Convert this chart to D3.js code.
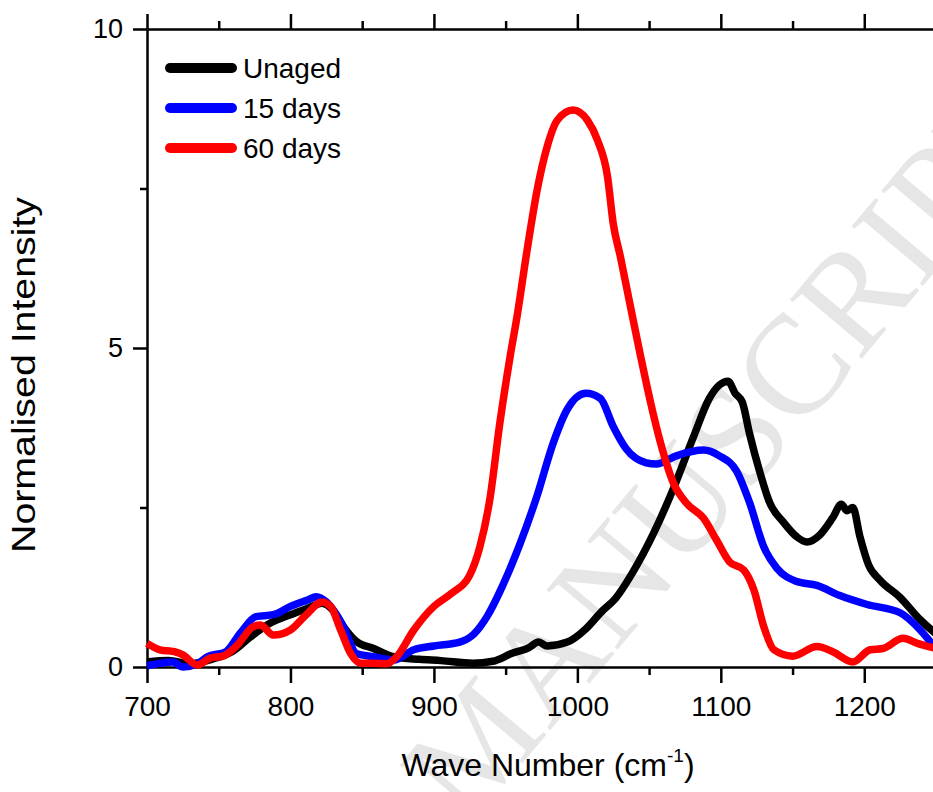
<!DOCTYPE html>
<html>
<head>
<meta charset="utf-8">
<script src="https://cdn.jsdelivr.net/npm/d3@7"></script>
<style>
  body { margin: 0; background: #fff; }
  svg { display: block; font-family: "Liberation Sans", Arial, sans-serif; }
  .axis path, .axis line { stroke: #000; stroke-width: 2.5px; }
  .axis text { font-size: 28px; fill: #000; }
</style>
</head>
<body>
<svg id="chart" width="933" height="792"></svg>
<script>
// Unaged spectrum (wave number, normalised intensity)
const unagedWave = [700, 715, 730, 745, 760, 772, 786, 800, 812, 822, 830, 838, 846, 858, 872, 890, 905, 927, 941, 955, 966, 973, 979, 993, 1006, 1017, 1026, 1039, 1053, 1067, 1081, 1092, 1099, 1105, 1110, 1115, 1120, 1127, 1134, 1144, 1153, 1160, 1169, 1178, 1184, 1188, 1192, 1197, 1203, 1211, 1225, 1239, 1250];
const unagedInt  = [0.08, 0.10, 0.05, 0.12, 0.25, 0.47, 0.69, 0.82, 0.92, 1.00, 0.88, 0.60, 0.40, 0.29, 0.16, 0.12, 0.10, 0.06, 0.09, 0.22, 0.30, 0.39, 0.33, 0.39, 0.60, 0.87, 1.06, 1.50, 2.09, 2.80, 3.61, 4.21, 4.42, 4.48, 4.29, 4.15, 3.66, 3.07, 2.58, 2.26, 2.04, 1.96, 2.07, 2.34, 2.55, 2.45, 2.50, 2.04, 1.60, 1.36, 1.09, 0.74, 0.52];

// 15 days
const days15Wave = [700, 718, 725, 735, 742, 755, 765, 776, 788, 800, 812, 818, 825, 837, 846, 858, 872, 886, 900, 918, 928, 937, 948, 960, 972, 983, 993, 1006, 1016, 1025, 1034, 1048, 1055, 1069, 1088, 1099, 1111, 1120, 1130, 1139, 1153, 1167, 1183, 1202, 1225, 1239, 1250];
const days15Int  = [0.02, 0.08, 0.00, 0.05, 0.16, 0.24, 0.53, 0.79, 0.82, 0.95, 1.05, 1.10, 1.02, 0.63, 0.21, 0.16, 0.11, 0.27, 0.33, 0.39, 0.52, 0.79, 1.28, 1.93, 2.69, 3.50, 4.04, 4.29, 4.21, 3.77, 3.42, 3.20, 3.18, 3.31, 3.40, 3.31, 3.07, 2.58, 1.88, 1.55, 1.34, 1.28, 1.12, 0.98, 0.85, 0.58, 0.28];

// 60 days
const days60Wave = [700, 709, 719, 725, 735, 744, 753, 762, 774, 779, 788, 800, 811, 822, 828, 835, 842, 849, 858, 867, 874, 886, 900, 912, 925, 932, 939, 946, 953, 958, 965, 972, 979, 986, 997, 1007, 1014, 1021, 1025, 1030, 1037, 1044, 1051, 1058, 1067, 1076, 1088, 1097, 1106, 1116, 1123, 1130, 1137, 1150, 1167, 1178, 1192, 1204, 1213, 1227, 1237, 1250];
const days60Int  = [0.37, 0.27, 0.24, 0.19, 0.03, 0.14, 0.17, 0.32, 0.63, 0.66, 0.50, 0.58, 0.82, 1.02, 0.95, 0.58, 0.21, 0.06, 0.06, 0.05, 0.16, 0.58, 0.95, 1.15, 1.44, 1.88, 2.63, 3.83, 4.85, 5.50, 6.54, 7.48, 8.16, 8.57, 8.73, 8.57, 8.26, 7.69, 6.95, 6.43, 5.65, 4.88, 4.15, 3.51, 2.88, 2.57, 2.33, 1.99, 1.65, 1.52, 1.21, 0.63, 0.27, 0.17, 0.32, 0.24, 0.08, 0.27, 0.29, 0.45, 0.37, 0.29];

const seriesNames = ["Unaged", "15 days", "60 days"];
const seriesColors = ["#000000", "#0000ff", "#ff0000"];

// Tick values
const xMajorTicks = [700, 800, 900, 1000, 1100, 1200];
const xMinorTicks = [750, 850, 950, 1050, 1150];
const yMajorTicks = [0, 5, 10];
const yMinorTicks = [2.5, 7.5];

const svg = d3.select("#chart");

const x = d3.scaleLinear().domain([700, 1250]).range([147, 936]);
const y = d3.scaleLinear().domain([0, 10]).range([667, 29]);

// Watermark behind everything
svg.append("text")
    .attr("transform", "translate(468,828) rotate(-50)")
    .attr("font-family", "'Liberation Serif', 'Times New Roman', serif")
    .attr("font-size", 142)
    .attr("fill", "#e6e6e6")
    .text("MANUSCRIPT");

// Bottom axis
svg.append("g")
    .attr("class", "axis")
    .attr("transform", `translate(0,${y(0)})`)
    .call(d3.axisBottom(x).tickValues(xMajorTicks).tickSize(16).tickSizeOuter(0).tickPadding(13).tickFormat(d3.format("d")));

svg.append("g")
    .attr("class", "axis")
    .attr("transform", `translate(0,${y(0)})`)
    .call(d3.axisBottom(x).tickValues(xMinorTicks).tickSize(8).tickFormat(""))
    .call(g => g.select(".domain").remove());

// Top axis
svg.append("g")
    .attr("class", "axis")
    .attr("transform", `translate(0,${y(10)})`)
    .call(d3.axisTop(x).tickValues(xMajorTicks).tickSize(15).tickSizeOuter(0).tickFormat(""));

svg.append("g")
    .attr("class", "axis")
    .attr("transform", `translate(0,${y(10)})`)
    .call(d3.axisTop(x).tickValues(xMinorTicks).tickSize(8).tickFormat(""))
    .call(g => g.select(".domain").remove());

// Left axis
svg.append("g")
    .attr("class", "axis")
    .attr("transform", `translate(${x(700)},0)`)
    .call(d3.axisLeft(y).tickValues(yMajorTicks).tickSize(14).tickSizeOuter(0).tickPadding(10).tickFormat(d3.format("d")))
    .call(g => g.selectAll("text").style("font-size", "27px"));

svg.append("g")
    .attr("class", "axis")
    .attr("transform", `translate(${x(700)},0)`)
    .call(d3.axisLeft(y).tickValues(yMinorTicks).tickSize(7).tickFormat(""))
    .call(g => g.select(".domain").remove());

// Axis titles
const xTitle = svg.append("text")
    .attr("x", 548)
    .attr("y", 776)
    .attr("text-anchor", "middle")
    .attr("font-size", 32);
xTitle.append("tspan").text("Wave Number (cm");
xTitle.append("tspan").attr("dy", -14).attr("font-size", 19).text("-1");
xTitle.append("tspan").attr("dy", 14).text(")");

svg.append("text")
    .attr("transform", "translate(35,375) rotate(-90)")
    .attr("text-anchor", "middle")
    .attr("font-size", 33)
    .attr("textLength", 356)
    .attr("lengthAdjust", "spacingAndGlyphs")
    .text("Normalised Intensity");

// Curves
const line = d3.line()
    .x(d => x(d[0]))
    .y(d => y(d[1]))
    .curve(d3.curveMonotoneX);

const seriesData = [
    d3.zip(unagedWave, unagedInt),
    d3.zip(days15Wave, days15Int),
    d3.zip(days60Wave, days60Int)
];

seriesData.forEach((d, i) => {
    svg.append("path")
        .datum(d)
        .attr("fill", "none")
        .attr("stroke", seriesColors[i])
        .attr("stroke-width", 7.5)
        .attr("stroke-linejoin", "round")
        .attr("d", line);
});

// Legend
const legend = svg.append("g");
seriesNames.forEach((name, i) => {
    const ly = 68 + i * 40;
    legend.append("line")
        .attr("x1", 170).attr("x2", 232)
        .attr("y1", ly).attr("y2", ly)
        .attr("stroke", seriesColors[i])
        .attr("stroke-width", 10)
        .attr("stroke-linecap", "round");
    legend.append("text")
        .attr("x", 243)
        .attr("y", ly + 10)
        .attr("font-size", 28)
        .text(name);
});
</script>
</body>
</html>
